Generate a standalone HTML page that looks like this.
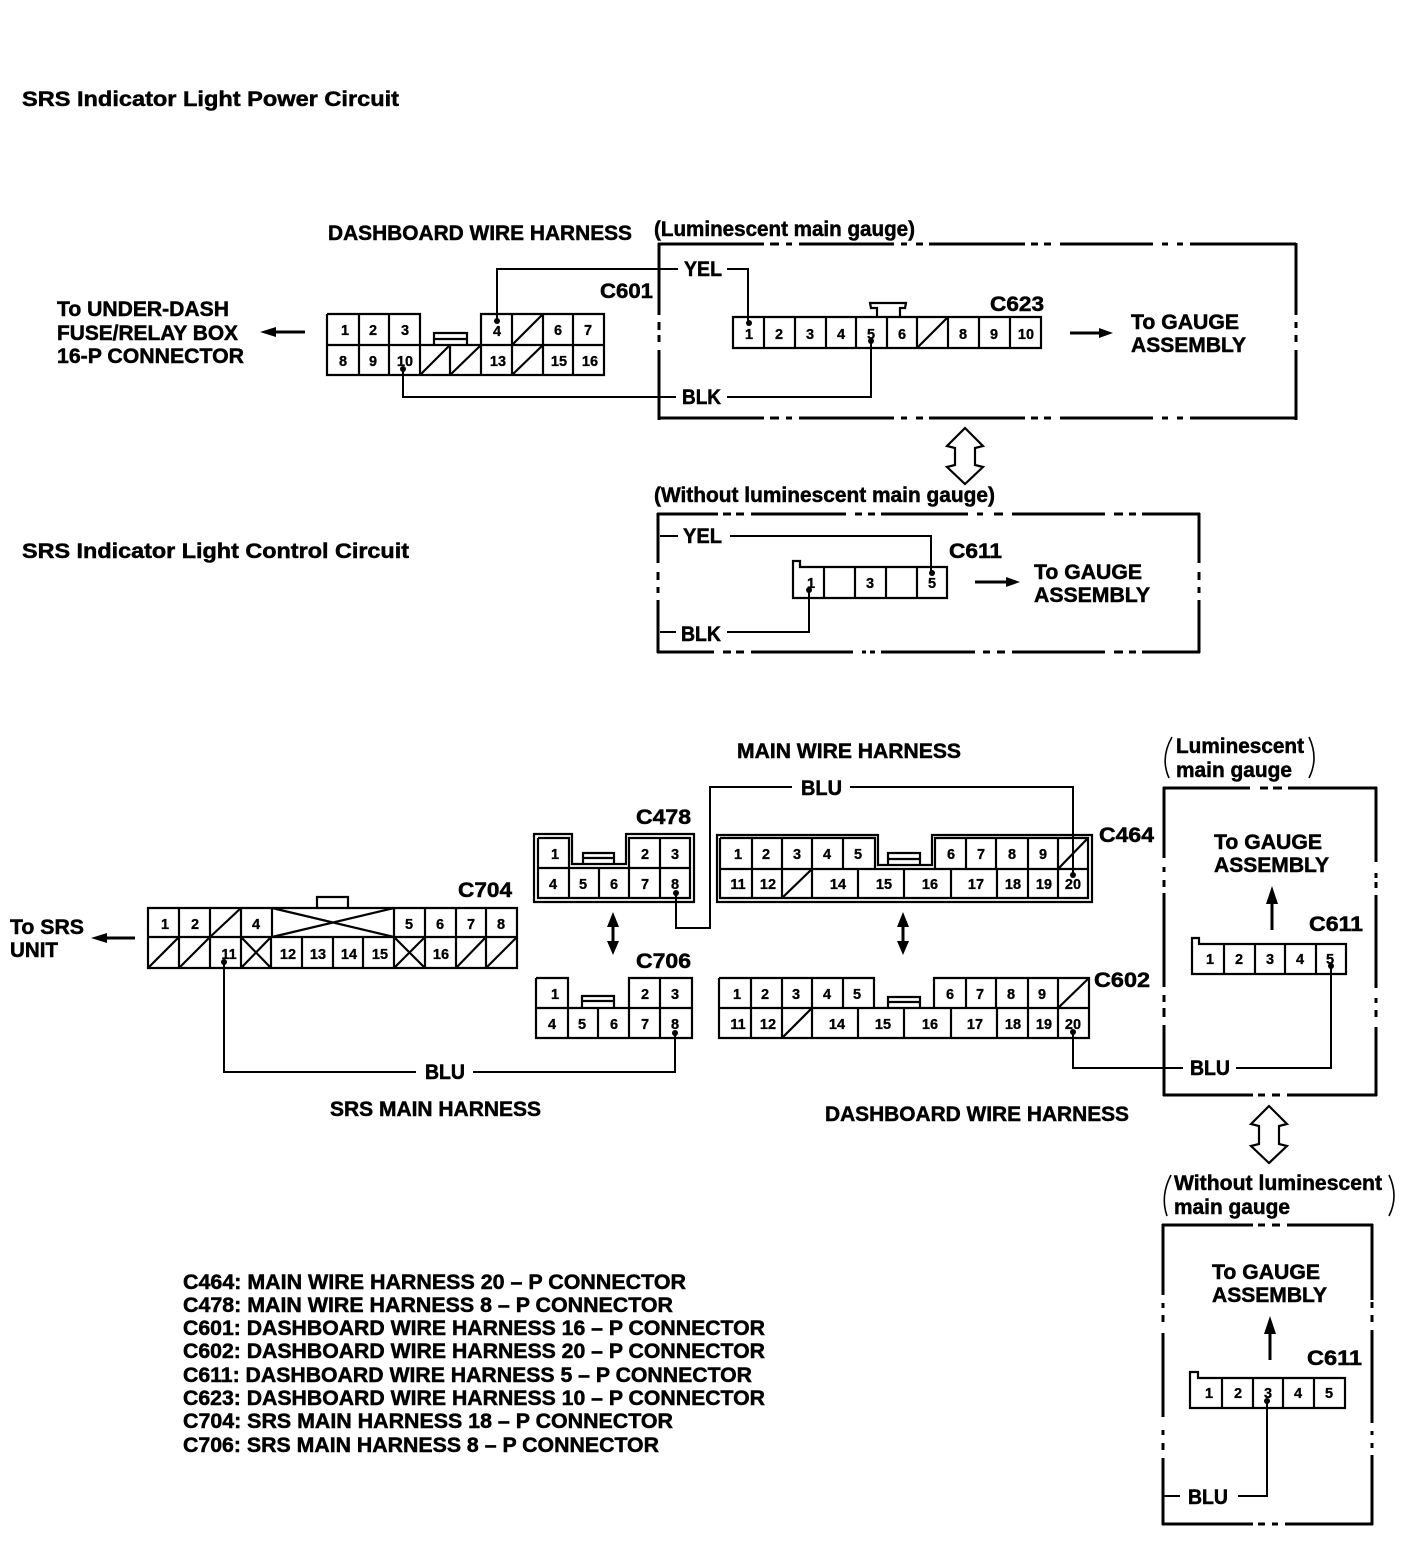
<!DOCTYPE html>
<html><head><meta charset="utf-8"><style>
html,body{margin:0;padding:0;background:#fff}
svg{display:block}
text{font-family:"Liberation Sans",sans-serif;font-weight:bold;fill:#000;stroke:#000}
.l text{font-size:21px;stroke-width:.5px}
.n text{font-size:14.5px;text-anchor:middle;stroke-width:.3px}
.s{fill:none;stroke:#000;stroke-width:2.2}
.t{fill:none;stroke:#000;stroke-width:3}
.w{fill:none;stroke:#000;stroke-width:2}
.a{fill:none;stroke:#000;stroke-width:3}
.b{fill:none;stroke:#000;stroke-width:1.6}
</style></head><body>
<svg width="1408" height="1566" viewBox="0 0 1408 1566" xmlns="http://www.w3.org/2000/svg">
<rect width="1408" height="1566" fill="#fff"/>

<g class="l">
<text x="22" y="106" textLength="377" lengthAdjust="spacingAndGlyphs">SRS Indicator Light Power Circuit</text>
<text x="22" y="558" textLength="387" lengthAdjust="spacingAndGlyphs">SRS Indicator Light Control Circuit</text>
<text x="328" y="240" textLength="304" lengthAdjust="spacingAndGlyphs">DASHBOARD WIRE HARNESS</text>
<text x="654" y="236" textLength="261" lengthAdjust="spacingAndGlyphs">(Luminescent main gauge)</text>
<text x="600" y="298" textLength="53" lengthAdjust="spacingAndGlyphs">C601</text>
<text x="990" y="311" textLength="54" lengthAdjust="spacingAndGlyphs">C623</text>
<text x="684" y="276" textLength="38" lengthAdjust="spacingAndGlyphs">YEL</text>
<text x="682" y="404" textLength="39" lengthAdjust="spacingAndGlyphs">BLK</text>
<text x="1131" y="329" textLength="108" lengthAdjust="spacingAndGlyphs">To GAUGE</text>
<text x="1131" y="352" textLength="115" lengthAdjust="spacingAndGlyphs">ASSEMBLY</text>
<text x="57" y="316" textLength="172" lengthAdjust="spacingAndGlyphs">To UNDER-DASH</text>
<text x="57" y="340" textLength="181" lengthAdjust="spacingAndGlyphs">FUSE/RELAY BOX</text>
<text x="57" y="363" textLength="187" lengthAdjust="spacingAndGlyphs">16-P CONNECTOR</text>
<text x="654" y="502" textLength="341" lengthAdjust="spacingAndGlyphs">(Without luminescent main gauge)</text>
<text x="683" y="543" textLength="39" lengthAdjust="spacingAndGlyphs">YEL</text>
<text x="681" y="641" textLength="40" lengthAdjust="spacingAndGlyphs">BLK</text>
<text x="949" y="558" textLength="53" lengthAdjust="spacingAndGlyphs">C611</text>
<text x="1034" y="579" textLength="108" lengthAdjust="spacingAndGlyphs">To GAUGE</text>
<text x="1034" y="602" textLength="116" lengthAdjust="spacingAndGlyphs">ASSEMBLY</text>
<text x="737" y="758" textLength="224" lengthAdjust="spacingAndGlyphs">MAIN WIRE HARNESS</text>
<text x="801" y="795" textLength="41" lengthAdjust="spacingAndGlyphs">BLU</text>
<text x="636" y="824" textLength="55" lengthAdjust="spacingAndGlyphs">C478</text>
<text x="636" y="968" textLength="55" lengthAdjust="spacingAndGlyphs">C706</text>
<text x="458" y="897" textLength="54" lengthAdjust="spacingAndGlyphs">C704</text>
<text x="1099" y="842" textLength="55" lengthAdjust="spacingAndGlyphs">C464</text>
<text x="1094" y="987" textLength="56" lengthAdjust="spacingAndGlyphs">C602</text>
<text x="10" y="934" textLength="74" lengthAdjust="spacingAndGlyphs">To SRS</text>
<text x="10" y="957" textLength="48" lengthAdjust="spacingAndGlyphs">UNIT</text>
<text x="425" y="1079" textLength="40" lengthAdjust="spacingAndGlyphs">BLU</text>
<text x="330" y="1116" textLength="211" lengthAdjust="spacingAndGlyphs">SRS MAIN HARNESS</text>
<text x="825" y="1121" textLength="304" lengthAdjust="spacingAndGlyphs">DASHBOARD WIRE HARNESS</text>
<text x="1176" y="753" textLength="128" lengthAdjust="spacingAndGlyphs">Luminescent</text>
<text x="1176" y="777" textLength="116" lengthAdjust="spacingAndGlyphs">main gauge</text>
<text x="1214" y="849" textLength="108" lengthAdjust="spacingAndGlyphs">To GAUGE</text>
<text x="1214" y="872" textLength="115" lengthAdjust="spacingAndGlyphs">ASSEMBLY</text>
<text x="1309" y="931" textLength="54" lengthAdjust="spacingAndGlyphs">C611</text>
<text x="1190" y="1075" textLength="40" lengthAdjust="spacingAndGlyphs">BLU</text>
<text x="1174" y="1190" textLength="208" lengthAdjust="spacingAndGlyphs">Without luminescent</text>
<text x="1174" y="1214" textLength="116" lengthAdjust="spacingAndGlyphs">main gauge</text>
<text x="1212" y="1279" textLength="108" lengthAdjust="spacingAndGlyphs">To GAUGE</text>
<text x="1212" y="1302" textLength="115" lengthAdjust="spacingAndGlyphs">ASSEMBLY</text>
<text x="1307" y="1365" textLength="55" lengthAdjust="spacingAndGlyphs">C611</text>
<text x="1188" y="1504" textLength="40" lengthAdjust="spacingAndGlyphs">BLU</text>
<text x="183" y="1289" textLength="503" lengthAdjust="spacingAndGlyphs">C464: MAIN WIRE HARNESS 20 – P CONNECTOR</text>
<text x="183" y="1312" textLength="490" lengthAdjust="spacingAndGlyphs">C478: MAIN WIRE HARNESS 8 – P CONNECTOR</text>
<text x="183" y="1335" textLength="582" lengthAdjust="spacingAndGlyphs">C601: DASHBOARD WIRE HARNESS 16 – P CONNECTOR</text>
<text x="183" y="1358" textLength="582" lengthAdjust="spacingAndGlyphs">C602: DASHBOARD WIRE HARNESS 20 – P CONNECTOR</text>
<text x="183" y="1382" textLength="569" lengthAdjust="spacingAndGlyphs">C611: DASHBOARD WIRE HARNESS 5 – P CONNECTOR</text>
<text x="183" y="1405" textLength="582" lengthAdjust="spacingAndGlyphs">C623: DASHBOARD WIRE HARNESS 10 – P CONNECTOR</text>
<text x="183" y="1428" textLength="490" lengthAdjust="spacingAndGlyphs">C704: SRS MAIN HARNESS 18 – P CONNECTOR</text>
<text x="183" y="1452" textLength="476" lengthAdjust="spacingAndGlyphs">C706: SRS MAIN HARNESS 8 – P CONNECTOR</text>
</g>

<!-- dashed enclosures -->
<g class="t">
<!-- box 1 -->
<path d="M658 244H764M770 244H779M786 244H792M799 244H894M901 244H907M916 244H923M929 244H1025M1031 244H1038M1044 244H1051M1060 244H1153M1162 244H1168M1177 244H1183M1190 244H1296"/>
<path d="M658 418H764M770 418H779M786 418H792M799 418H894M901 418H907M916 418H923M929 418H1025M1031 418H1038M1044 418H1051M1060 418H1153M1162 418H1168M1177 418H1183M1190 418H1296"/>
<path d="M659 243V315M659 322V330M659 335V342M659 350V420"/>
<path d="M1296 243V315M1296 322V328M1296 335V342M1296 350V420"/>
<!-- box 2 -->
<path d="M657 514H718M723 514H731M736 514H744M751 514H846M855 514H862M868 514H875M881 514H968M977 514H983M994 514H1003M1012 514H1105M1114 514H1123M1129 514H1136M1142 514H1200"/>
<path d="M657 652H714M723 652H731M736 652H744M751 652H853M862 652H866M870 652H875M881 652H975M983 652H990M997 652H1005M1012 652H1105M1114 652H1123M1129 652H1136M1142 652H1200"/>
<path d="M658 513V563M658 572V580M658 587V593M658 600V653"/>
<path d="M1199 513V563M1199 572V580M1199 587V593M1199 600V653"/>
<!-- box 3 -->
<path d="M1163 788H1250M1260 788H1268M1273 788H1282M1288 788H1377"/>
<path d="M1163 1095H1253M1258 1095H1265M1272 1095H1280M1287 1095H1377"/>
<path d="M1164 787V858M1164 867V872M1164 880V887M1164 893V987M1164 995V1002M1164 1008V1017M1164 1025V1096"/>
<path d="M1376 787V862M1376 873V878M1376 882V888M1376 895V988M1376 998V1003M1376 1010V1017M1376 1027V1096"/>
<!-- box 4 -->
<path d="M1162 1225H1253M1258 1225H1265M1272 1225H1280M1287 1225H1373"/>
<path d="M1162 1524H1253M1258 1524H1265M1272 1524H1278M1285 1524H1373"/>
<path d="M1163 1224V1295M1163 1303V1308M1163 1315V1322M1163 1333V1417M1163 1430V1435M1163 1443V1450M1163 1458V1525"/>
<path d="M1372 1224V1300M1372 1302V1308M1372 1315V1322M1372 1330V1423M1372 1431V1435M1372 1443V1448M1372 1455V1525"/>
</g>

<!-- C601 -->
<path class="s" d="M327 314H420V345M481 345V314H604V375H327V314M327 345H604M359 314V375M389 314V375M420 345V375M450 345V375M481 345V375M512 314V375M543 314V375M573 314V375M420 375L450 345M450 375L481 345M512 375L543 345M512 345L543 314"/>
<path class="s" d="M434 345V333H467V345M434 339H467"/>
<g class="n">
<text x="345" y="335">1</text><text x="373" y="335">2</text><text x="405" y="335">3</text><text x="497" y="336">4</text><text x="558" y="335">6</text><text x="588" y="335">7</text>
<text x="343" y="366">8</text><text x="373" y="366">9</text><text x="405" y="366">10</text><text x="498" y="366">13</text><text x="559" y="366">15</text><text x="590" y="366">16</text>
</g>

<!-- C623 -->
<path class="s" d="M733 317H1041V348H733ZM764 317V348M795 317V348M826 317V348M856 317V348M887 317V348M917 317V348M948 317V348M979 317V348M1010 317V348M917 348L948 317"/>
<path class="s" d="M877 317V308H871L870 303H906L905 308H900V317"/>
<g class="n">
<text x="749" y="339">1</text><text x="779" y="339">2</text><text x="810" y="339">3</text><text x="841" y="339">4</text><text x="871" y="339">5</text><text x="902" y="339">6</text><text x="963" y="339">8</text><text x="994" y="339">9</text><text x="1026" y="339">10</text>
</g>

<!-- wires upper -->
<g class="w">
<path d="M497 322V269H678M727 269H748V322"/>
<path d="M403 369V397H676M727 397H871V340"/>
<path d="M660 536H678M730 536H931V572"/>
<path d="M660 632H676M727 632H809V590"/>
</g>
<g fill="#000">
<circle cx="497" cy="321" r="3"/><circle cx="749" cy="323" r="3"/><circle cx="403" cy="369" r="3"/><circle cx="871" cy="341" r="3"/><circle cx="932" cy="573" r="3"/><circle cx="809" cy="590" r="3"/>
</g>

<!-- C611 upper -->
<path class="s" d="M793 561H800V567H947V598H793ZM824 567V598M855 567V598M886 567V598M917 567V598"/>
<g class="n"><text x="811" y="588">1</text><text x="870" y="588">3</text><text x="932" y="588">5</text></g>

<!-- arrows -->
<g class="a">
<path d="M1070 333H1105M975 582H1012M275 332H305M105 938H135"/>
<path d="M1272 900V930M1270 1328V1360"/>
<path d="M613 922V946M903 922V946"/>
</g>
<g fill="#000">
<path d="M1113 333L1099 328V338Z"/><path d="M1020 582L1006 577V587Z"/>
<path d="M260 332L276 327V337Z"/><path d="M91 938L107 933V943Z"/>
<path d="M1272 886L1266 904H1278Z"/><path d="M1270 1316L1264 1334H1276Z"/>
<path d="M613 912L607 927H619Z"/><path d="M613 955L607 941H619Z"/>
<path d="M903 912L897 927H909Z"/><path d="M903 955L897 941H909Z"/>
</g>
<path class="s" d="M965 428L983 446L975 448V465L983 467L965 484L947 467L955 465V448L947 446Z"/>
<path class="s" d="M1269 1106L1287 1124L1279 1126V1144L1287 1146L1269 1163L1251 1146L1259 1144V1126L1251 1124Z"/>

<!-- C704 -->
<path class="s" d="M148 908H517V968H148ZM148 937H517M179 908V968M210 908V968M241 908V968M272 908V937M271 937V968M302 937V968M333 937V968M363 937V968M394 908V968M425 908V968M456 908V968M486 908V968"/>
<path class="s" d="M210 937L241 908M272 908L394 937M272 937L394 908M148 968L179 937M179 968L210 937M241 937L271 968M241 968L271 937M394 937L425 968M394 968L425 937M456 968L486 937M486 968L517 937"/>
<path class="s" d="M317 908V897H348V908"/>
<g class="n">
<text x="165" y="929">1</text><text x="195" y="929">2</text><text x="256" y="929">4</text><text x="409" y="929">5</text><text x="440" y="929">6</text><text x="471" y="929">7</text><text x="501" y="929">8</text>
<text x="229" y="959">11</text><text x="288" y="959">12</text><text x="318" y="959">13</text><text x="349" y="959">14</text><text x="380" y="959">15</text><text x="441" y="959">16</text>
</g>

<!-- C478 -->
<path class="s" stroke-width="2.4" d="M534 834H572V864H626V834H694V902H534Z"/>
<path class="s" d="M538 838H569V868M629 868V838H690V898H538V838M538 868H690M569 868V898M599 868V898M629 868V898M660 838V898"/>
<path class="s" d="M583 864V853H614V864M583 858H614"/>
<g class="n">
<text x="555" y="859">1</text><text x="645" y="859">2</text><text x="675" y="859">3</text>
<text x="553" y="889">4</text><text x="583" y="889">5</text><text x="614" y="889">6</text><text x="645" y="889">7</text><text x="675" y="889">8</text>
</g>

<!-- C706 -->
<path class="s" d="M536 978H568V1008M629 1008V978H692V1038H536V978M536 1008H692M568 1008V1038M598 1008V1038M629 1008V1038M660 978V1038"/>
<path class="s" d="M582 1007V996H614V1007M582 1001H614"/>
<g class="n">
<text x="555" y="999">1</text><text x="645" y="999">2</text><text x="675" y="999">3</text>
<text x="552" y="1029">4</text><text x="582" y="1029">5</text><text x="614" y="1029">6</text><text x="645" y="1029">7</text><text x="675" y="1029">8</text>
</g>

<!-- C464 -->
<path class="s" stroke-width="2.4" d="M717 835H878V865H932V835H1092V902H717Z"/>
<path class="s" d="M720 838H875V869M935 869V838H1088V898H720V838M720 869H1088M752 838V898M782 838V898M812 838V898M843 838V869M966 838V869M996 838V869M1028 838V898M1058 838V898M858 869V898M904 869V898M951 869V898M997 869V898M782 898L812 869M1058 869L1088 838"/>
<path class="s" d="M888 865V853H920V865M888 859H920"/>
<g class="n">
<text x="738" y="859">1</text><text x="766" y="859">2</text><text x="797" y="859">3</text><text x="827" y="859">4</text><text x="858" y="859">5</text><text x="951" y="859">6</text><text x="981" y="859">7</text><text x="1012" y="859">8</text><text x="1043" y="859">9</text>
<text x="738" y="889">11</text><text x="768" y="889">12</text><text x="838" y="889">14</text><text x="884" y="889">15</text><text x="930" y="889">16</text><text x="976" y="889">17</text><text x="1013" y="889">18</text><text x="1044" y="889">19</text><text x="1073" y="889">20</text>
</g>

<!-- C602 -->
<path class="s" d="M719 978H874V1008M934 1008V978H1089V1038H719V978M719 1008H1089M751 978V1038M782 978V1038M812 978V1038M843 978V1008M966 978V1008M996 978V1008M1028 978V1038M1058 978V1038M858 1008V1038M904 1008V1038M951 1008V1038M997 1008V1038M782 1038L812 1008M1058 1008L1089 978"/>
<path class="s" d="M888 1008V997H920V1008M888 1002H920"/>
<g class="n">
<text x="737" y="999">1</text><text x="765" y="999">2</text><text x="796" y="999">3</text><text x="827" y="999">4</text><text x="857" y="999">5</text><text x="950" y="999">6</text><text x="980" y="999">7</text><text x="1011" y="999">8</text><text x="1042" y="999">9</text>
<text x="738" y="1029">11</text><text x="768" y="1029">12</text><text x="837" y="1029">14</text><text x="883" y="1029">15</text><text x="930" y="1029">16</text><text x="975" y="1029">17</text><text x="1013" y="1029">18</text><text x="1044" y="1029">19</text><text x="1073" y="1029">20</text>
</g>

<!-- C611 right 1 -->
<path class="s" d="M1192 938H1199V944H1346V974H1192ZM1224 944V974M1255 944V974M1285 944V974M1316 944V974"/>
<g class="n"><text x="1210" y="964">1</text><text x="1239" y="964">2</text><text x="1270" y="964">3</text><text x="1300" y="964">4</text><text x="1330" y="964">5</text></g>
<!-- C611 right 2 -->
<path class="s" d="M1190 1372H1198V1378H1345V1408H1190ZM1222 1378V1408M1253 1378V1408M1283 1378V1408M1314 1378V1408"/>
<g class="n"><text x="1209" y="1398">1</text><text x="1238" y="1398">2</text><text x="1268" y="1398">3</text><text x="1298" y="1398">4</text><text x="1329" y="1398">5</text></g>

<!-- lower wires -->
<g class="w">
<path d="M676 893V928H710V787H792M850 787H1073V875"/>
<path d="M224 962V1072H416M473 1072H675V1033"/>
<path d="M1073 1032V1068H1183M1236 1068H1331V966"/>
<path d="M1267 1401V1496H1238M1164 1496H1180"/>
</g>
<g fill="#000">
<circle cx="676" cy="893" r="3"/><circle cx="1073" cy="875" r="3"/><circle cx="224" cy="962" r="3"/><circle cx="675" cy="1033" r="3"/><circle cx="1073" cy="1032" r="3"/><circle cx="1331" cy="966" r="3"/><circle cx="1267" cy="1401" r="3"/>
</g>

<!-- brackets -->
<g class="b">
<path d="M1172 737Q1160 758 1169 778"/>
<path d="M1309 737Q1319 758 1309 778"/>
<path d="M1171 1175Q1160 1196 1167 1216"/>
<path d="M1389 1175Q1399 1196 1389 1216"/>
</g>
</svg>
</body></html>
